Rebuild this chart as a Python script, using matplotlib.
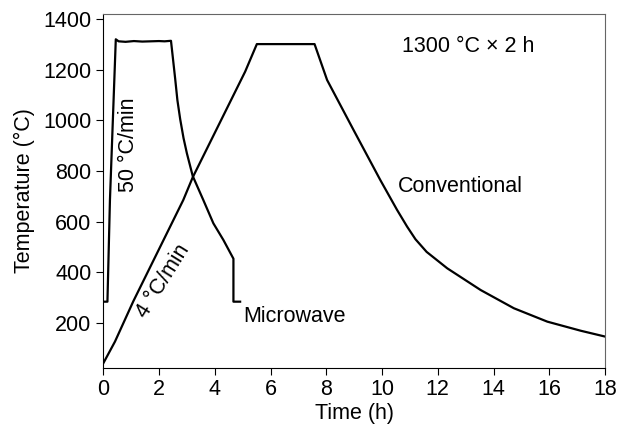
import matplotlib
matplotlib.use("Agg")
import matplotlib.pyplot as plt

plt.rcParams['font.family'] = ['Liberation Sans', 'DejaVu Sans']

# microwave sintering profile (time in h, temperature in C)
mw_time = [0.02, 0.15, 0.24, 0.45, 0.55, 0.8, 1.1, 1.4, 1.7, 2.0, 2.2, 2.43,
           2.5, 2.58, 2.66, 2.76, 2.88, 3.0, 3.21, 3.59, 3.95, 4.31, 4.67, 4.67, 4.91]
mw_temp = [283, 283, 685, 1321, 1313, 1311, 1314, 1312, 1313, 1314, 1313, 1315,
           1245, 1165, 1080, 1005, 930, 870, 780, 685, 593, 527, 453, 283, 283]

# conventional sintering profile
cv_time = [0.0, 0.42, 1.08, 2.87, 3.21, 5.09, 5.51, 7.58, 8.03, 8.98, 9.94,
           10.54, 10.9, 11.2, 11.6, 12.34, 13.54, 14.73, 15.93, 17.13, 18.0]
cv_temp = [39, 125, 285, 685, 775, 1193, 1302, 1302, 1160, 962, 764,
           646, 580, 530, 480, 415, 329, 257, 204, 168, 145]

FS = 15.5
fig = plt.figure(figsize=(6.22, 4.30), dpi=100)
ax = fig.add_axes([0.166, 0.145, 0.8067, 0.8224])

ax.plot(mw_time, mw_temp, color='black', lw=1.6)
ax.plot(cv_time, cv_temp, color='black', lw=1.6)

ax.text(0.89, 905, '50 °C/min', rotation=90, fontsize=FS, ha='center', va='center')
ax.text(2.15, 365, '4 °C/min', rotation=58, fontsize=FS, ha='center', va='center')
ax.text(5.02, 226, 'Microwave', fontsize=FS, ha='left', va='center')
ax.text(10.58, 737, 'Conventional', fontsize=FS, ha='left', va='center')
ax.text(10.72, 1292, '1300 °C × 2 h', fontsize=FS, ha='left', va='center')

ax.set_xlim(0, 18)
ax.set_ylim(22, 1421)
ax.set_xticks(range(0, 19, 2))
ax.set_yticks(range(200, 1401, 200))
ax.tick_params(axis='both', direction='out', length=5, labelsize=FS, top=False, right=False)
ax.set_xlabel('Time (h)', fontsize=FS, labelpad=2)
ax.set_ylabel('Temperature (°C)', fontsize=FS, labelpad=6)
for s in ['top', 'right']:
    ax.spines[s].set_color('#666666')

fig.savefig('out.png', dpi=100)
